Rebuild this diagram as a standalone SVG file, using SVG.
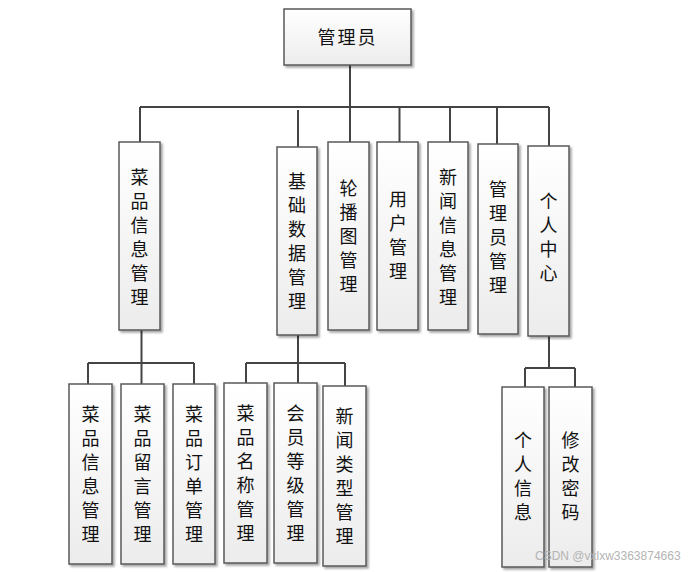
<svg xmlns="http://www.w3.org/2000/svg" width="696" height="572" viewBox="0 0 696 572">
<defs>
<linearGradient id="g" x1="0" y1="0" x2="0" y2="1">
<stop offset="0" stop-color="#ffffff"/>
<stop offset="1" stop-color="#ececec"/>
</linearGradient>
<filter id="sh" x="-20%" y="-20%" width="140%" height="140%">
<feGaussianBlur in="SourceAlpha" stdDeviation="1.2"/>
<feOffset dx="2" dy="2" result="b"/>
<feComponentTransfer><feFuncA type="linear" slope="0.35"/></feComponentTransfer>
<feMerge><feMergeNode/><feMergeNode in="SourceGraphic"/></feMerge>
</filter>
</defs>
<style>
.box{fill:url(#g);stroke:#5a5a5a;stroke-width:1.5;filter:url(#sh)}
.t{font-family:"Noto Sans CJK SC","Noto Sans",sans-serif;font-size:18px;fill:#111;text-anchor:middle}
.ln{fill:none;stroke:#444;stroke-width:2}
.wm{font-family:"Liberation Sans",Arial,sans-serif;font-size:12px;fill:#b4b4b4}
</style>
<rect width="696" height="572" fill="#fff"/>
<g id="connectors">
<path class="ln" d="M350 65V142"/>
<path class="ln" d="M140 107H549"/>
<path class="ln" d="M140 107V142M399.5 107V142M450 107V142M497 107V144M549 107V146"/>
<path class="ln" d="M298 110V147"/>
<path class="ln" d="M141.5 330V363M88 363H194M88 363V385M141.5 363V385M194 363V385"/>
<path class="ln" d="M298 335V363M246 363H345M246 363V384M298 363V384M345 363V386"/>
<path class="ln" d="M549 336V368M525 368H575M525 368V388M575 368V388"/>
</g>
<g id="root"><rect class="box" x="284" y="9" width="127" height="56"/><text class="t" x="347.5" y="44" letter-spacing="2">管理员</text></g>
<g id="n1"><rect class="box" x="119" y="142" width="41" height="188"/><text class="t" x="139.5"><tspan x="139.5" y="184">菜</tspan><tspan x="139.5" y="208">品</tspan><tspan x="139.5" y="232">信</tspan><tspan x="139.5" y="256">息</tspan><tspan x="139.5" y="280">管</tspan><tspan x="139.5" y="304">理</tspan></text></g>
<g id="n2"><rect class="box" x="277" y="147" width="40" height="188"/><text class="t"><tspan x="297" y="188">基</tspan><tspan x="297" y="212">础</tspan><tspan x="297" y="236">数</tspan><tspan x="297" y="260">据</tspan><tspan x="297" y="284">管</tspan><tspan x="297" y="308">理</tspan></text></g>
<g id="n3"><rect class="box" x="328" y="142" width="41" height="188"/><text class="t"><tspan x="348.5" y="195">轮</tspan><tspan x="348.5" y="219">播</tspan><tspan x="348.5" y="243">图</tspan><tspan x="348.5" y="267">管</tspan><tspan x="348.5" y="291">理</tspan></text></g>
<g id="n4"><rect class="box" x="377" y="142" width="41" height="188"/><text class="t"><tspan x="398" y="206">用</tspan><tspan x="398" y="230">户</tspan><tspan x="398" y="254">管</tspan><tspan x="398" y="278">理</tspan></text></g>
<g id="n5"><rect class="box" x="428" y="142" width="40" height="188"/><text class="t"><tspan x="448" y="184">新</tspan><tspan x="448" y="208">闻</tspan><tspan x="448" y="232">信</tspan><tspan x="448" y="256">息</tspan><tspan x="448" y="280">管</tspan><tspan x="448" y="304">理</tspan></text></g>
<g id="n6"><rect class="box" x="478" y="144" width="40" height="190"/><text class="t"><tspan x="498" y="196">管</tspan><tspan x="498" y="220">理</tspan><tspan x="498" y="244">员</tspan><tspan x="498" y="268">管</tspan><tspan x="498" y="292">理</tspan></text></g>
<g id="n7"><rect class="box" x="528" y="146" width="41" height="190"/><text class="t"><tspan x="548.5" y="208">个</tspan><tspan x="548.5" y="232">人</tspan><tspan x="548.5" y="256">中</tspan><tspan x="548.5" y="280">心</tspan></text></g>
<g id="c1"><rect class="box" x="69" y="384" width="43" height="180"/><text class="t"><tspan x="90.5" y="421">菜</tspan><tspan x="90.5" y="445">品</tspan><tspan x="90.5" y="469">信</tspan><tspan x="90.5" y="493">息</tspan><tspan x="90.5" y="517">管</tspan><tspan x="90.5" y="541">理</tspan></text></g>
<g id="c2"><rect class="box" x="121" y="384" width="43" height="180"/><text class="t"><tspan x="142.5" y="421">菜</tspan><tspan x="142.5" y="445">品</tspan><tspan x="142.5" y="469">留</tspan><tspan x="142.5" y="493">言</tspan><tspan x="142.5" y="517">管</tspan><tspan x="142.5" y="541">理</tspan></text></g>
<g id="c3"><rect class="box" x="173" y="384" width="42" height="180"/><text class="t"><tspan x="194" y="421">菜</tspan><tspan x="194" y="445">品</tspan><tspan x="194" y="469">订</tspan><tspan x="194" y="493">单</tspan><tspan x="194" y="517">管</tspan><tspan x="194" y="541">理</tspan></text></g>
<g id="c4"><rect class="box" x="224" y="383" width="43" height="180"/><text class="t"><tspan x="245.5" y="420">菜</tspan><tspan x="245.5" y="444">品</tspan><tspan x="245.5" y="468">名</tspan><tspan x="245.5" y="492">称</tspan><tspan x="245.5" y="516">管</tspan><tspan x="245.5" y="540">理</tspan></text></g>
<g id="c5"><rect class="box" x="274" y="383" width="43" height="180"/><text class="t"><tspan x="295.5" y="420">会</tspan><tspan x="295.5" y="444">员</tspan><tspan x="295.5" y="468">等</tspan><tspan x="295.5" y="492">级</tspan><tspan x="295.5" y="516">管</tspan><tspan x="295.5" y="540">理</tspan></text></g>
<g id="c6"><rect class="box" x="323" y="386" width="43" height="180"/><text class="t"><tspan x="344.5" y="423">新</tspan><tspan x="344.5" y="447">闻</tspan><tspan x="344.5" y="471">类</tspan><tspan x="344.5" y="495">型</tspan><tspan x="344.5" y="519">管</tspan><tspan x="344.5" y="543">理</tspan></text></g>
<g id="c7"><rect class="box" x="502" y="387" width="42" height="180"/><text class="t"><tspan x="523" y="447">个</tspan><tspan x="523" y="471">人</tspan><tspan x="523" y="495">信</tspan><tspan x="523" y="519">息</tspan></text></g>
<g id="c8"><rect class="box" x="549" y="387" width="43" height="180"/><text class="t"><tspan x="570.5" y="447">修</tspan><tspan x="570.5" y="471">改</tspan><tspan x="570.5" y="495">密</tspan><tspan x="570.5" y="519">码</tspan></text></g>
<text class="wm" x="535" y="560">CSDN @vxlxw3363874663</text>
</svg>
